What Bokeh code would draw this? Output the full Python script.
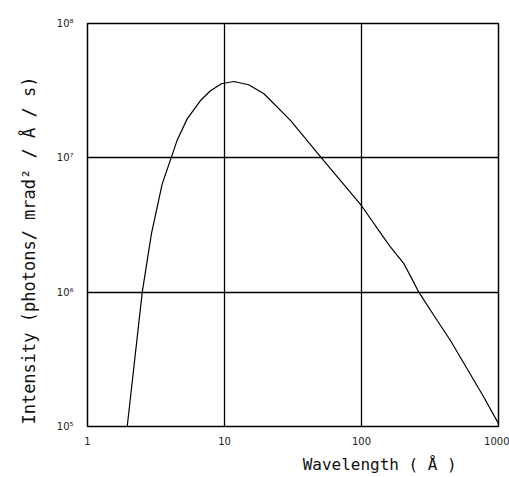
from bokeh.plotting import figure
from bokeh.models import FixedTicker, CustomJSTickFormatter, Range1d
from bokeh.embed import file_html
from bokeh.resources import INLINE

# Data
wavelength = [1.95, 2.51, 2.93, 3.51, 4.08, 4.52, 5.34, 6.68, 7.9, 9.5, 11.7, 15.0,
              19.4, 30.3, 51.0, 100.0, 145.0, 163.0, 204.0, 234.0, 262.0, 357.0,
              446.0, 782.0, 1000.0]
intensity = [1.0e5, 1.0e6, 2.73e6, 6.4e6, 1.0e7, 1.36e7, 1.95e7, 2.67e7, 3.16e7, 3.56e7, 3.70e7, 3.5e7,
             3.0e7, 1.9e7, 1.0e7, 4.4e6, 2.56e6, 2.16e6, 1.63e6, 1.25e6, 1.0e6, 6.15e5,
             4.37e5, 1.65e5, 1.05e5]

x_ticks = [1, 10, 100, 1000]
x_tick_labels = ["1", "10", "100", "1000"]
y_ticks = [1e5, 1e6, 1e7, 1e8]
y_tick_labels = ["10⁵", "10⁶", "10⁷", "10⁸"]

x_title = "Wavelength ( Å )"
y_title = "Intensity (photons/ mrad² / Å / s)"

NB = "\u00a0"

p = figure(width=509, height=477, x_axis_type="log", y_axis_type="log",
           x_range=Range1d(1, 1000), y_range=Range1d(1e5, 1e8),
           output_backend="svg", toolbar_location=None,
           min_border_left=87, min_border_right=11, min_border_top=23, min_border_bottom=51)

p.background_fill_color = "white"
p.border_fill_color = "white"
p.outline_line_color = "black"
p.outline_line_width = 1.5

fmt_code = """
let best = 0; let bd = 1e99;
for (let i = 0; i < tv.length; i++) {
  const d = Math.abs(Math.log10(tv[i]) - Math.log10(tick));
  if (d < bd) { bd = d; best = i; }
}
return tl[best];
"""

p.xaxis.ticker = FixedTicker(ticks=x_ticks)
p.yaxis.ticker = FixedTicker(ticks=y_ticks)
p.xaxis.formatter = CustomJSTickFormatter(args=dict(tv=x_ticks, tl=x_tick_labels), code=fmt_code)
p.yaxis.formatter = CustomJSTickFormatter(args=dict(tv=y_ticks, tl=y_tick_labels), code=fmt_code)

for ax in (p.xaxis, p.yaxis):
    ax.axis_line_color = None
    ax.major_tick_line_color = None
    ax.minor_tick_line_color = None
    ax.major_tick_out = 0
    ax.major_tick_in = 0
    ax.major_label_text_font = "DejaVu Sans"
    ax.major_label_text_font_size = "10px"
    ax.major_label_text_color = "#222222"
    ax.axis_label_text_font = "DejaVu Sans Mono"
    ax.axis_label_text_font_style = "normal"
    ax.axis_label_text_color = "#111111"

p.xaxis.axis_label_text_font_size = "16px"
p.yaxis.axis_label_text_font_size = "17px"
p.xaxis.major_label_standoff = 10
p.yaxis.major_label_standoff = 14
p.xaxis.axis_label = NB * 18 + x_title
p.yaxis.axis_label = y_title + NB * 5
p.xaxis.axis_label_standoff = 7
p.yaxis.axis_label_standoff = 15

p.xgrid.ticker = FixedTicker(ticks=x_ticks)
p.ygrid.ticker = FixedTicker(ticks=y_ticks)
for g in (p.xgrid, p.ygrid):
    g.grid_line_color = "black"
    g.grid_line_width = 1.3
    g.grid_line_alpha = 1.0

p.line(wavelength, intensity, line_color="black", line_width=1.2)

open("out.html", "w").write(file_html(p, INLINE))
